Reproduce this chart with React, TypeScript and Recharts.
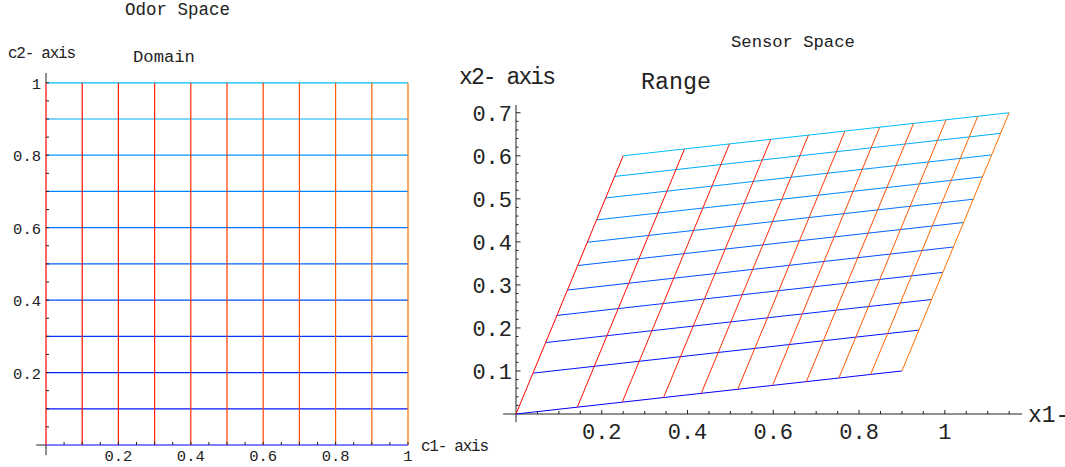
import React from 'react';
import { ScatterChart, Scatter, XAxis, YAxis, ReferenceLine } from 'recharts';

// odor space grid levels (same for c1 and c2)
const domainLevels = [0, 0.1, 0.2, 0.3, 0.4, 0.5, 0.6, 0.7, 0.8, 0.9, 1];

// sensor space, lines of constant c1: end at c2 = 0 and end at c2 = 1
const c1BottomX1 = [0, 0.143, 0.248, 0.344, 0.432, 0.517, 0.598, 0.677, 0.753, 0.827, 0.9];
const c1BottomX2 = [0, 0.016, 0.028, 0.038, 0.048, 0.057, 0.066, 0.075, 0.084, 0.092, 0.1];
const c1TopX1 = [0.25, 0.393, 0.498, 0.594, 0.682, 0.767, 0.848, 0.927, 1.003, 1.077, 1.15];
const c1TopX2 = [0.6, 0.616, 0.628, 0.638, 0.648, 0.657, 0.666, 0.675, 0.684, 0.692, 0.7];

// sensor space, lines of constant c2: end at c1 = 0 and end at c1 = 1
const c2LeftX1 = [0, 0.04, 0.069, 0.095, 0.12, 0.144, 0.166, 0.188, 0.209, 0.23, 0.25];
const c2LeftX2 = [0, 0.095, 0.166, 0.229, 0.288, 0.345, 0.399, 0.451, 0.502, 0.552, 0.6];
const c2RightX1 = [0.9, 0.94, 0.969, 0.995, 1.02, 1.044, 1.066, 1.088, 1.109, 1.13, 1.15];
const c2RightX2 = [0.1, 0.195, 0.266, 0.329, 0.388, 0.445, 0.499, 0.551, 0.602, 0.652, 0.7];

// ticks
const odorTicks = [0.05, 0.1, 0.15, 0.2, 0.25, 0.3, 0.35, 0.4, 0.45, 0.5, 0.55, 0.6, 0.65, 0.7, 0.75, 0.8, 0.85, 0.9, 0.95, 1];
const odorLabels = [0.2, 0.4, 0.6, 0.8, 1];
const sensorXTicks = [0.05, 0.1, 0.15, 0.2, 0.25, 0.3, 0.35, 0.4, 0.45, 0.5, 0.55, 0.6, 0.65, 0.7, 0.75, 0.8, 0.85, 0.9, 0.95, 1, 1.05, 1.1, 1.15];
const sensorXLabels = [0.2, 0.4, 0.6, 0.8, 1];
const sensorYTicks = [0.02, 0.04, 0.06, 0.08, 0.1, 0.12, 0.14, 0.16, 0.18, 0.2, 0.22, 0.24, 0.26, 0.28, 0.3, 0.32, 0.34, 0.36, 0.38, 0.4, 0.42, 0.44, 0.46, 0.48, 0.5, 0.52, 0.54, 0.56, 0.58, 0.6, 0.62, 0.64, 0.66, 0.68, 0.7];
const sensorYLabels = [0.1, 0.2, 0.3, 0.4, 0.5, 0.6, 0.7];

const FONT = '"Liberation Mono", "DejaVu Sans Mono", monospace';
const INK = '#222';

const redHue = (i: number) => `hsl(${i * 2.6}, 100%, 50%)`;
const blueHue = (i: number) => `hsl(${240 - i * 4.5}, 100%, 50%)`;
const fmt = (v: number) => (v === 1 ? '1' : v.toFixed(1));
const noDot = () => <g />;

function xTick(labels: number[], minor: number, major: number, size: number, dy: number) {
  return (props: any) => {
    const { x, y, payload } = props;
    const on = labels.includes(payload.value);
    return (
      <g>
        <line x1={x} y1={y} x2={x} y2={y - (on ? major : minor)} stroke={INK} strokeWidth={1} />
        {on && (
          <text x={x} y={y + dy} textAnchor="middle" fontSize={size} fontFamily={FONT} fill={INK}>
            {fmt(payload.value)}
          </text>
        )}
      </g>
    );
  };
}

function yTick(labels: number[], minor: number, major: number, size: number, dx: number, dy: number) {
  return (props: any) => {
    const { x, y, payload } = props;
    const on = labels.some((l) => Math.abs(l - payload.value) < 1e-9);
    return (
      <g>
        <line x1={x} y1={y} x2={x + (on ? major : minor)} y2={y} stroke={INK} strokeWidth={1} />
        {on && (
          <text x={x - dx} y={y + dy} textAnchor="end" fontSize={size} fontFamily={FONT} fill={INK}>
            {fmt(payload.value)}
          </text>
        )}
      </g>
    );
  };
}

function OdorPanel() {
  // axis lines inside the plot are covered by the c1 = 0 and c2 = 0 grid lines
  return (
    <ScatterChart width={460} height={467} margin={{ top: 73, right: 52, bottom: 0, left: 0 }}>
      <XAxis
        type="number"
        dataKey="x"
        domain={[0, 1]}
        ticks={odorTicks}
        interval={0}
        tickSize={0}
        tickMargin={0}
        height={22}
        axisLine={false}
        tickLine={false}
        tick={xTick(odorLabels, 3, 3, 15.5, 16)}
      />
      <YAxis
        type="number"
        dataKey="y"
        domain={[0, 1.027]}
        ticks={odorTicks}
        interval={0}
        tickSize={0}
        tickMargin={0}
        width={46}
        axisLine={false}
        tickLine={false}
        tick={yTick(odorLabels, 3, 3, 15.5, 5, 6)}
      />
      <ReferenceLine segment={[{ x: -0.027, y: 0 }, { x: 0, y: 0 }]} stroke={INK} ifOverflow="visible" />
      <ReferenceLine segment={[{ x: 0, y: -0.028 }, { x: 0, y: 0 }]} stroke={INK} ifOverflow="visible" />
      <ReferenceLine segment={[{ x: 0, y: 1 }, { x: 0, y: 1.027 }]} stroke={INK} ifOverflow="visible" />
      {domainLevels.map((c, i) => (
        <Scatter
          key={'h' + i}
          data={[{ x: 0, y: c }, { x: 1, y: c }]}
          line={{ stroke: blueHue(i), strokeWidth: 1.2 }}
          shape={noDot}
          isAnimationActive={false}
        />
      ))}
      {domainLevels.map((c, i) => (
        <Scatter
          key={'v' + i}
          data={[{ x: c, y: 0 }, { x: c, y: 1 }]}
          line={{ stroke: redHue(i), strokeWidth: 1.2 }}
          shape={noDot}
          isAnimationActive={false}
        />
      ))}
    </ScatterChart>
  );
}

function SensorPanel() {
  return (
    <ScatterChart width={625} height={467} margin={{ top: 105, right: 43, bottom: 0, left: 0 }}>
      <XAxis
        type="number"
        dataKey="x"
        domain={[0, 1.18]}
        ticks={sensorXTicks}
        interval={0}
        tickSize={0}
        tickMargin={0}
        height={53}
        axisLine={{ stroke: INK }}
        tickLine={false}
        tick={xTick(sensorXLabels, 3, 4, 22, 25)}
      />
      <YAxis
        type="number"
        dataKey="y"
        domain={[0, 0.718]}
        ticks={sensorYTicks}
        interval={0}
        tickSize={0}
        tickMargin={0}
        width={76}
        axisLine={{ stroke: INK }}
        tickLine={false}
        tick={yTick(sensorYLabels, 2.5, 4.5, 22, 4, 8)}
      />
      <ReferenceLine segment={[{ x: -0.03, y: 0 }, { x: 0, y: 0 }]} stroke={INK} ifOverflow="visible" />
      <ReferenceLine segment={[{ x: 0, y: -0.019 }, { x: 0, y: 0 }]} stroke={INK} ifOverflow="visible" />
      {domainLevels.map((_, i) => (
        <Scatter
          key={'h' + i}
          data={[{ x: c2LeftX1[i], y: c2LeftX2[i] }, { x: c2RightX1[i], y: c2RightX2[i] }]}
          line={{ stroke: blueHue(i), strokeWidth: 1 }}
          shape={noDot}
          isAnimationActive={false}
        />
      ))}
      {domainLevels.map((_, i) => (
        <Scatter
          key={'v' + i}
          data={[{ x: c1BottomX1[i], y: c1BottomX2[i] }, { x: c1TopX1[i], y: c1TopX2[i] }]}
          line={{ stroke: redHue(i), strokeWidth: 1 }}
          shape={noDot}
          isAnimationActive={false}
        />
      ))}
    </ScatterChart>
  );
}

export default function App() {
  const t = { fontFamily: FONT, fill: INK };
  return (
    <div style={{ position: 'absolute', left: 0, top: 0, width: 1065, height: 467, background: '#fff', overflow: 'hidden' }}>
      <div style={{ position: 'absolute', left: 0, top: 0 }}>
        <OdorPanel />
      </div>
      <div style={{ position: 'absolute', left: 440, top: 0 }}>
        <SensorPanel />
      </div>
      <svg width={1065} height={467} style={{ position: 'absolute', left: 0, top: 0, pointerEvents: 'none' }}>
        <text x={125} y={15} fontSize={17.5} {...t}>Odor Space</text>
        <text x={133} y={62} fontSize={17.2} {...t}>Domain</text>
        <text x={8} y={58} fontSize={16} textLength={68} lengthAdjust="spacing" {...t}>c2- axis</text>
        <text x={421} y={451} fontSize={16} textLength={68} lengthAdjust="spacing" {...t}>c1- axis</text>
        <text x={731} y={47} fontSize={17.2} {...t}>Sensor Space</text>
        <text x={641} y={89} fontSize={23.3} {...t}>Range</text>
        <text x={459} y={84} fontSize={23} textLength={97} lengthAdjust="spacing" {...t}>x2- axis</text>
        <text x={1028} y={422} fontSize={23} {...t}>x1- axis</text>
      </svg>
    </div>
  );
}
